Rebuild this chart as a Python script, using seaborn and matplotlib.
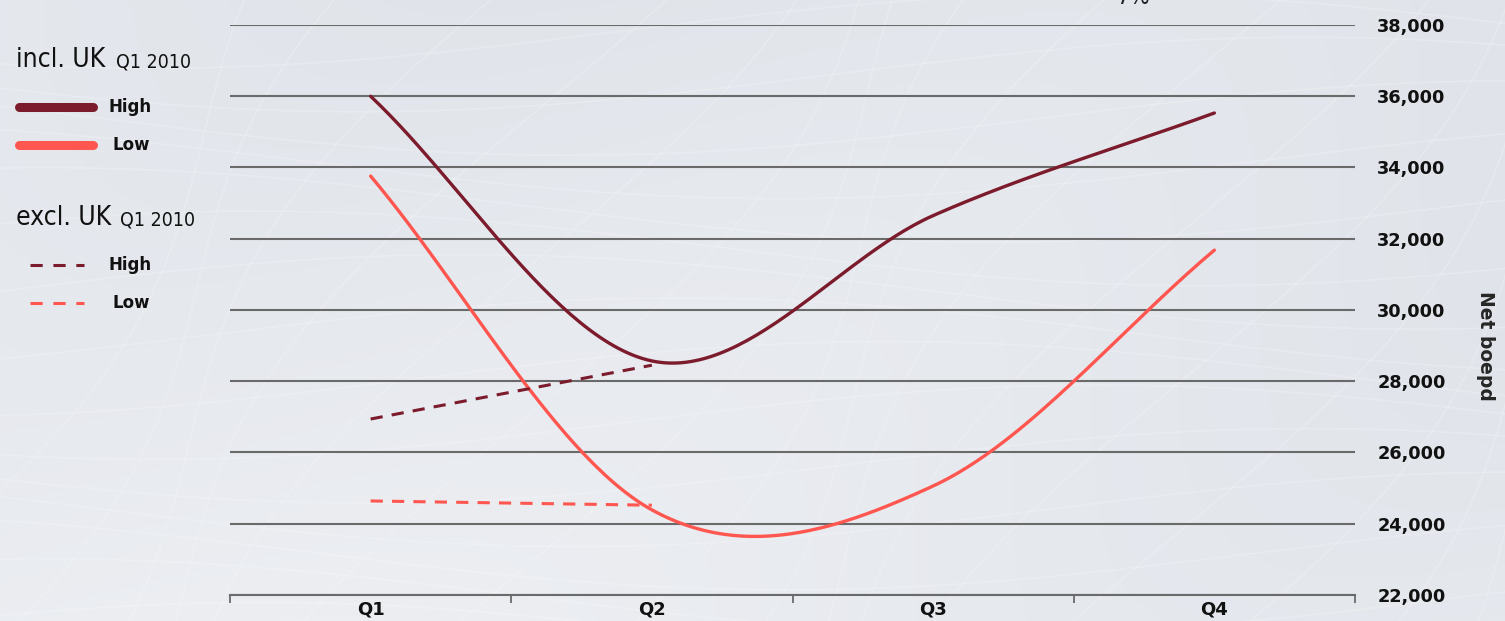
import matplotlib
matplotlib.use("Agg")
import matplotlib.pyplot as plt
from matplotlib.lines import Line2D
import matplotlib.font_manager as fm
import seaborn as sns
import numpy as np
import pandas as pd

# data (Net boepd per quarter)
quarters = ["Q1", "Q2", "Q3", "Q4"]
incl_high = [36000, 28570, 32650, 35530]
incl_low = [33760, 24390, 25060, 31680]
excl_high = [26940, 28450]
excl_low = [24640, 24520]
y_ticks = [22000, 24000, 26000, 28000, 30000, 32000, 34000, 36000, 38000]

HIGH = "#7b1b2c"
LOW = "#ff5650"

cond = [f for f in fm.fontManager.ttflist if f.name == "DejaVu Sans" and "ondensed" in str(f.stretch) + f.fname]
narrow_kw = {"fontstretch": "condensed"} if cond else {}


def smooth(values, n=60):
    # Catmull-Rom style smoothing through the given points (Excel "smoothed line")
    p = np.asarray(values, dtype=float)
    k = len(p)
    m = np.zeros(k)
    for i in range(k):
        if i == 0:
            m[i] = p[1] - p[0]
        elif i == k - 1:
            m[i] = p[-1] - p[-2]
        else:
            m[i] = (p[i + 1] - p[i - 1]) / 2
    xs, ys = [], []
    for i in range(k - 1):
        t = np.linspace(0, 1, n)
        h00 = 2 * t**3 - 3 * t**2 + 1
        h10 = t**3 - 2 * t**2 + t
        h01 = -2 * t**3 + 3 * t**2
        h11 = t**3 - t**2
        xs.append(i + t)
        ys.append(h00 * p[i] + h10 * m[i] + h01 * p[i + 1] + h11 * m[i + 1])
    return np.concatenate(xs), np.concatenate(ys)


frames = []
for label, vals in [("incl_high", incl_high), ("incl_low", incl_low),
                    ("excl_high", excl_high), ("excl_low", excl_low)]:
    x, y = smooth(vals)
    frames.append(pd.DataFrame({"x": x, "y": y, "series": label}))
df = pd.concat(frames, ignore_index=True)

sns.set_theme(style="white")
plt.rcParams["font.family"] = ["DejaVu Sans"]

fig = plt.figure(figsize=(15.05, 6.21), dpi=100)

# soft grey-blue background with faint white mesh
bg = fig.add_axes([0, 0, 1, 1], zorder=-10)
gy, gx = np.mgrid[0:1:200j, 0:1:400j]
grad = 0.35 * gx + 0.45 * (1 - gy) + 0.15 * np.sin(6 * gx + 3 * gy)
bg.imshow(grad, cmap=matplotlib.colors.LinearSegmentedColormap.from_list(
    "bgc", ["#eceef2", "#e0e4ea"]), aspect="auto", extent=[0, 1, 0, 1])
for k in range(16):
    xx = np.linspace(0, 1, 200)
    bg.plot(xx, 0.07 * k + 0.06 * np.sin(5 * xx + k * 0.7) - 0.1, color="white", alpha=0.2, lw=1.2)
    bg.plot(0.07 * k + 0.05 * np.sin(4 * xx + k) - 0.1 + 0.3 * xx, xx, color="white", alpha=0.18, lw=1.2)
bg.set_xlim(0, 1)
bg.set_ylim(0, 1)
bg.axis("off")

ax = fig.add_axes([230 / 1505, 26 / 621, 1125 / 1505, 570 / 621])
ax.patch.set_alpha(0)

styles = {
    "incl_high": (HIGH, "-", 2.4),
    "incl_low": (LOW, "-", 2.4),
    "excl_high": (HIGH, (0, (4, 3)), 2.2),
    "excl_low": (LOW, (0, (4, 3)), 2.2),
}
for name, (col, ls, lw) in styles.items():
    sub = df[df["series"] == name]
    sns.lineplot(data=sub, x="x", y="y", ax=ax, color=col, lw=lw, linestyle=ls,
                 sort=False, estimator=None, legend=False, zorder=3)

ax.set_xlim(-0.5, 3.5)
ax.set_ylim(22000, 38000)
ax.set_yticks(y_ticks)
ax.set_yticklabels([f"{v:,}" for v in y_ticks], fontweight="bold", fontsize=12.8)
ax.yaxis.tick_right()
ax.yaxis.set_label_position("right")
ax.tick_params(axis="y", length=0, pad=16, colors="#111111")
ax.set_ylabel("Net boepd", rotation=-90, fontweight="bold", fontsize=13.5, va="center")
ax.yaxis.set_label_coords(1.1156, 0.437)
ax.grid(axis="y", color="#6a6a6a", lw=1.5)
ax.grid(axis="x", visible=False)

ax.set_xticks(range(len(quarters)))
ax.set_xticklabels(quarters, fontweight="bold", fontsize=13)
ax.set_xticks(np.arange(-0.5, 4, 1), minor=True)
ax.tick_params(axis="x", which="major", length=0, pad=4, colors="#111111")
ax.tick_params(axis="x", which="minor", length=6, width=1.3, color="#6a6a6a", direction="out", bottom=True)
ax.set_xlabel("")

for s in ["top", "left", "right"]:
    ax.spines[s].set_visible(False)
ax.spines["bottom"].set_color("#6a6a6a")
ax.spines["bottom"].set_linewidth(1.5)


# legend on the left
def fy(py):
    return 1 - py / 621


def fx(px):
    return px / 1505


fig.text(fx(16), fy(60), "incl. UK", fontsize=19, va="center", color="#111111", **narrow_kw)
fig.text(fx(116), fy(62), "Q1 2010", fontsize=14, va="center", color="#111111", **narrow_kw)
fig.text(fx(16), fy(218), "excl. UK", fontsize=19, va="center", color="#111111", **narrow_kw)
fig.text(fx(120), fy(220), "Q1 2010", fontsize=14, va="center", color="#111111", **narrow_kw)

legend_rows = [
    (107, HIGH, "-", 6.5, 19, 93, 108, "High"),
    (145, LOW, "-", 6.5, 19, 93, 112, "Low"),
    (265, HIGH, (0, (4, 3.5)), 2.2, 30, 84, 108, "High"),
    (303, LOW, (0, (4, 3.5)), 2.2, 30, 84, 112, "Low"),
]
for py, col, ls, lw, x0, x1, tx, txt in legend_rows:
    fig.add_artist(Line2D([fx(x0), fx(x1)], [fy(py), fy(py)], transform=fig.transFigure,
                          color=col, lw=lw, linestyle=ls, solid_capstyle="round"))
    fig.text(fx(tx), fy(py), txt, fontweight="bold", fontsize=12, va="center", color="#111111")

# annotation clipped at the very top, as in the source image
fig.text(fx(1116), fy(9), "7%", fontsize=17, va="bottom", color="#222222", **narrow_kw)

fig.savefig("out.png", dpi=100)
